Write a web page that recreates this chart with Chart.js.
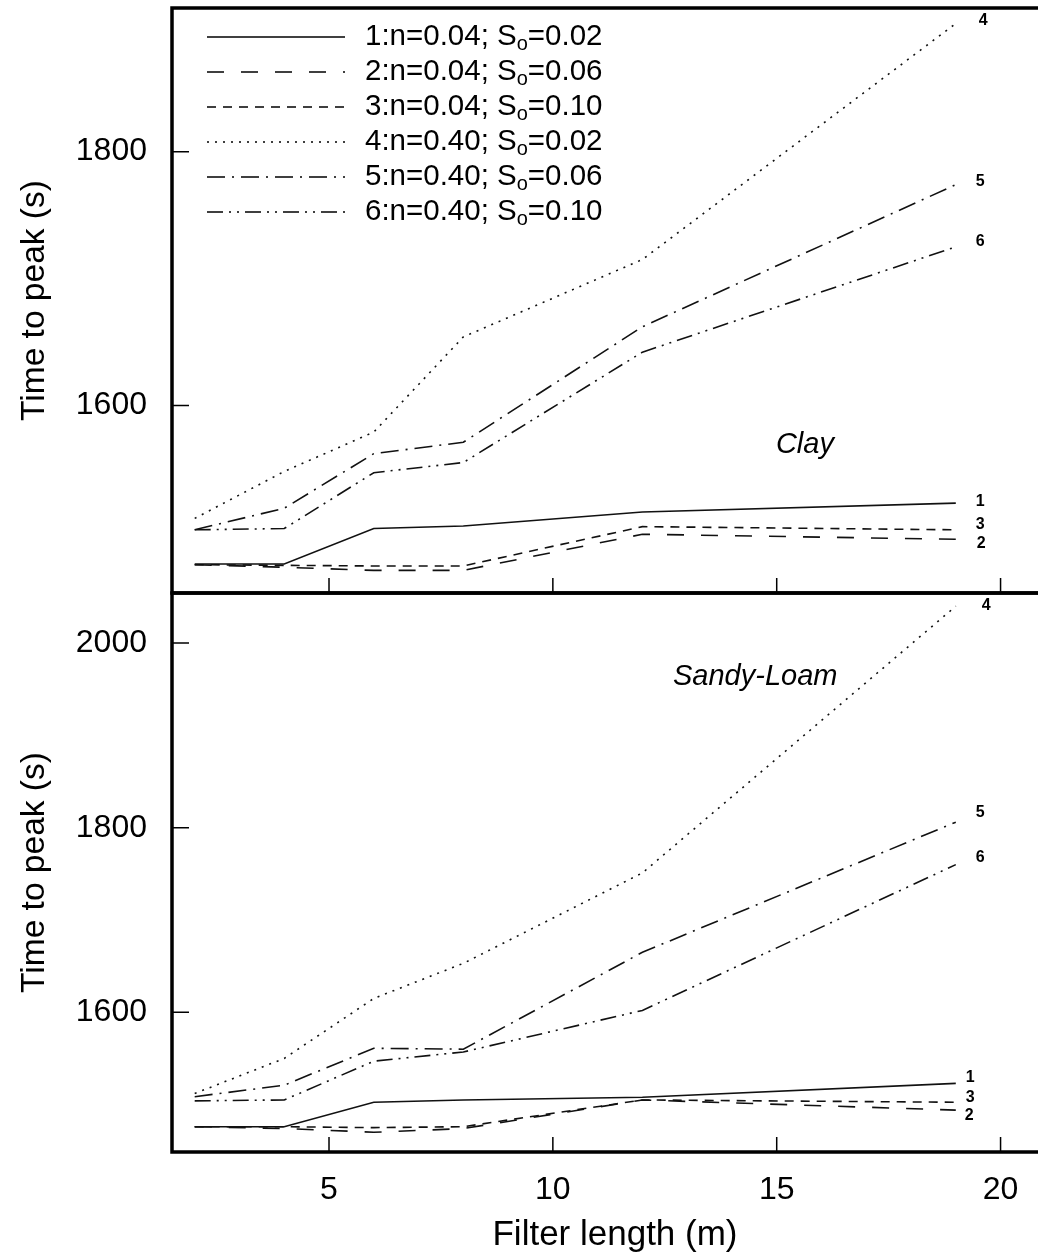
<!DOCTYPE html>
<html>
<head>
<meta charset="utf-8">
<script src="https://cdn.jsdelivr.net/npm/chart.js@4.4.0/dist/chart.umd.min.js"></script>
<style>
    html, body { margin: 0; padding: 0; background: #fff; overflow: hidden; }
    #contenedor { position: relative; width: 1038px; height: 1257px; overflow: hidden; }
    canvas { position: absolute; left: 0; }
    #graficoArcilla { top: 0; }
    #graficoArenoso { top: 590px; }
</style>
</head>
<body>
<div id="contenedor">
    <canvas id="graficoArcilla" width="1058" height="600"></canvas>
    <canvas id="graficoArenoso" width="1058" height="667"></canvas>
</div>
<script>
// Longitud del filtro (m)
const longitudFiltro = [2, 4, 6, 8, 12, 19];

// Parametros de cada curva
const etiquetasCurva = ['1', '2', '3', '4', '5', '6'];
const manning = ['0.04', '0.04', '0.04', '0.40', '0.40', '0.40'];
const pendiente = ['0.02', '0.06', '0.10', '0.02', '0.06', '0.10'];

// Tiempo al pico (s) - suelo arcilloso (Clay)
const arcilla1 = [1475, 1475, 1503, 1505, 1516, 1523];
const arcilla2 = [1474.5, 1472.5, 1470, 1470, 1498.5, 1494.5];
const arcilla3 = [1474.5, 1474, 1473.5, 1473.5, 1504.5, 1502];
const arcilla4 = [1511, 1548, 1579, 1654, 1715, 1901];
const arcilla5 = [1502, 1519, 1562, 1571, 1662, 1774];
const arcilla6 = [1502, 1503, 1547, 1555, 1642, 1725];

// Tiempo al pico (s) - suelo franco arenoso (Sandy-Loam)
const arenoso1 = [1476, 1476, 1502.5, 1505, 1508, 1523];
const arenoso2 = [1476, 1474, 1470, 1474, 1505, 1494];
const arenoso3 = [1476, 1476, 1475, 1476, 1505, 1502.5];
const arenoso4 = [1512, 1550, 1615, 1653, 1751, 2040];
const arenoso5 = [1508.5, 1521, 1561, 1560, 1665, 1806];
const arenoso6 = [1504, 1505, 1547, 1557, 1602, 1760];

// Marcas de los ejes
const ticksX = [5, 10, 15, 20];
const ticksYArcilla = [1600, 1800];
const ticksYArenoso = [1600, 1800, 2000];

Chart.defaults.font.family = '"Liberation Sans", Arial, Helvetica, sans-serif';
Chart.defaults.color = '#000';

// Estilos de linea para cada curva
const trazos = [[], [17, 17], [9, 7], [2, 6], [18, 7, 2, 7], [16, 6, 2, 6, 2, 6]];

function crearDatasets(series) {
    return series.map((valores, i) => ({
        label: etiquetasCurva[i],
        data: valores.map((v, j) => ({ x: longitudFiltro[j], y: v })),
        borderColor: '#111',
        borderWidth: 1.6,
        borderDash: trazos[i],
        pointRadius: 0,
        tension: 0,
        fill: false
    }));
}

// Marco del panel, marcas hacia dentro, leyenda y textos
const marcoPanel = {
    id: 'marcoPanel',
    afterDraw(chart, args, opts) {
        const { ctx, chartArea: a, scales } = chart;
        ctx.save();
        ctx.strokeStyle = '#000';
        ctx.fillStyle = '#000';

        // Marcas de los ejes (hacia dentro)
        ctx.lineWidth = 1.5;
        ctx.beginPath();
        scales.y.ticks.forEach(t => {
            const py = scales.y.getPixelForValue(t.value);
            ctx.moveTo(a.left, py);
            ctx.lineTo(a.left + 17, py);
        });
        ticksX.forEach(v => {
            const px = scales.x.getPixelForValue(v);
            ctx.moveTo(px, a.bottom);
            ctx.lineTo(px, a.bottom - 15);
        });
        ctx.stroke();

        // Marco grueso
        ctx.lineWidth = 3.5;
        ctx.beginPath();
        ctx.moveTo(a.right + 5, a.top);
        ctx.lineTo(a.left, a.top);
        ctx.lineTo(a.left, a.bottom);
        ctx.lineTo(a.right + 5, a.bottom);
        ctx.stroke();

        // Numero de cada curva al final
        ctx.font = 'bold 16px "Liberation Sans", Arial, sans-serif';
        ctx.textAlign = 'left';
        ctx.textBaseline = 'middle';
        chart.data.datasets.forEach((ds, i) => {
            const ultimo = ds.data[ds.data.length - 1];
            const px = scales.x.getPixelForValue(ultimo.x);
            const py = scales.y.getPixelForValue(ultimo.y);
            const d = opts.desplazamientos[i];
            ctx.fillText(ds.label, px + d[0], py + d[1]);
        });

        // Nombre del suelo
        ctx.font = 'italic 29px "Liberation Sans", Arial, sans-serif';
        ctx.textAlign = 'center';
        ctx.fillText(opts.suelo.texto,
            scales.x.getPixelForValue(opts.suelo.x),
            scales.y.getPixelForValue(opts.suelo.y));

        // Leyenda (solo en el panel superior)
        if (opts.leyenda) {
            chart.data.datasets.forEach((ds, i) => {
                const y = 37 + i * 35;
                ctx.lineWidth = 1.6;
                ctx.setLineDash(ds.borderDash);
                ctx.beginPath();
                ctx.moveTo(207, y);
                ctx.lineTo(345, y);
                ctx.stroke();
                ctx.setLineDash([]);

                let x = 365;
                ctx.textAlign = 'left';
                ctx.textBaseline = 'middle';
                ctx.font = '29.5px "Liberation Sans", Arial, sans-serif';
                const parte1 = ds.label + ':n=' + manning[i] + '; S';
                ctx.fillText(parte1, x, y);
                x += ctx.measureText(parte1).width;
                ctx.font = '20px "Liberation Sans", Arial, sans-serif';
                ctx.fillText('o', x, y + 7);
                x += ctx.measureText('o').width;
                ctx.font = '29.5px "Liberation Sans", Arial, sans-serif';
                ctx.fillText('=' + pendiente[i], x, y);
            });
        }
        ctx.restore();
    }
};

function opcionesEjeY(min, max, marcas) {
    return {
        type: 'linear',
        min: min,
        max: max,
        afterBuildTicks: s => { s.ticks = marcas.map(v => ({ value: v })); },
        afterFit: s => {
            s.width = 172;
            s.paddingTop = 0;
            s.paddingBottom = 0;
        },
        ticks: {
            padding: 25,
            font: { size: 32 },
            callback: v => String(v)
        },
        grid: { display: false, drawTicks: false },
        border: { display: false },
        title: {
            display: true,
            text: 'Time to peak (s)',
            font: { size: 33.5 },
            padding: { top: 15, bottom: 0 }
        }
    };
}

// Panel superior: Clay
new Chart(document.getElementById('graficoArcilla').getContext('2d'), {
    type: 'line',
    data: { datasets: crearDatasets([arcilla1, arcilla2, arcilla3, arcilla4, arcilla5, arcilla6]) },
    options: {
        responsive: false,
        animation: false,
        layout: { padding: { top: 8, bottom: 7, left: 0, right: 0 } },
        scales: {
            x: { type: 'linear', min: 1.493, max: 21.283, display: false },
            y: opcionesEjeY(1452.2, 1913.2, ticksYArcilla)
        },
        plugins: {
            legend: { display: false },
            tooltip: { enabled: false },
            marcoPanel: {
                leyenda: true,
                suelo: { texto: 'Clay', x: 15.63, y: 1569 },
                desplazamientos: [[20, -2], [21, 4], [20, -5], [23, -3], [20, -3], [20, -5]]
            }
        }
    },
    plugins: [marcoPanel]
});

// Panel inferior: Sandy-Loam
new Chart(document.getElementById('graficoArenoso').getContext('2d'), {
    type: 'line',
    data: { datasets: crearDatasets([arenoso1, arenoso2, arenoso3, arenoso4, arenoso5, arenoso6]) },
    options: {
        responsive: false,
        animation: false,
        layout: { padding: { top: 3, bottom: 0, left: 0, right: 0 } },
        scales: {
            x: {
                type: 'linear',
                min: 1.493,
                max: 21.283,
                afterBuildTicks: s => { s.ticks = ticksX.map(v => ({ value: v })); },
                afterFit: s => {
                    s.height = 105;
                    s.paddingLeft = 0;
                    s.paddingRight = 0;
                },
                ticks: { padding: 19, font: { size: 32 } },
                grid: { display: false, drawTicks: false },
                border: { display: false },
                title: {
                    display: true,
                    text: 'Filter length (m)',
                    font: { size: 35 },
                    padding: { top: 0, bottom: 1 }
                }
            },
            y: opcionesEjeY(1448.6, 2054.3, ticksYArenoso)
        },
        plugins: {
            legend: { display: false },
            tooltip: { enabled: false },
            marcoPanel: {
                leyenda: false,
                suelo: { texto: 'Sandy-Loam', x: 14.52, y: 1963 },
                desplazamientos: [[10, -6], [9, 5], [10, -5], [26, -1], [20, -10], [20, -7]]
            }
        }
    },
    plugins: [marcoPanel]
});
</script>
</body>
</html>
